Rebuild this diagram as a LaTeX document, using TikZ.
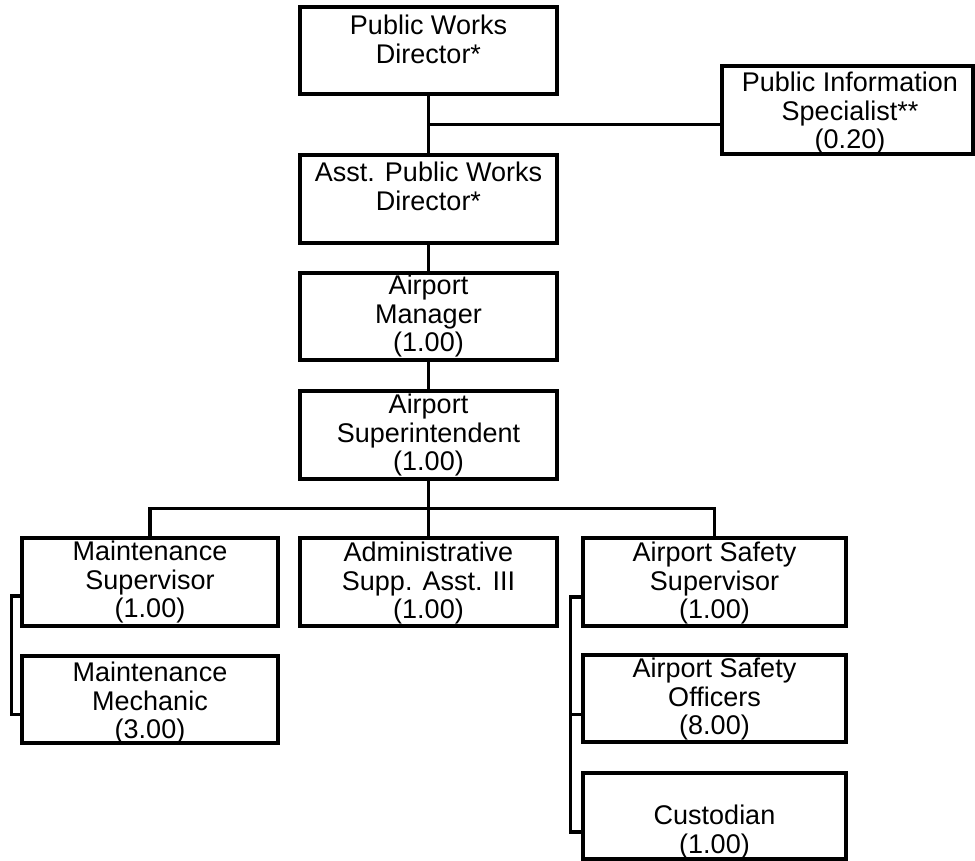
\documentclass[tikz,border=0pt]{standalone}
\usepackage{fontspec}
\setmainfont{Liberation Sans}
\usetikzlibrary{calc}
\tikzset{
  box/.style={draw=black, line width=3.3pt, rectangle, inner sep=0pt, fill=white},
  txt/.style={anchor=north, align=center, inner sep=0pt, font=\fontsize{27}{28.5}\selectfont},
  con/.style={draw=black, line width=3.3pt}
}
\begin{document}
\begin{tikzpicture}[x=1pt, y=-1pt]
\useasboundingbox (0,0) rectangle (975,861);
% boxes
\node[box, minimum width=257pt, minimum height=87pt] (pwd) at (428.5,50.5) {};
\node[box, minimum width=257pt, minimum height=88pt] (asst) at (428.5,199) {};
\node[box, minimum width=251pt, minimum height=88pt] (pis) at (847.5,110) {};
\node[box, minimum width=257pt, minimum height=87pt] (am) at (428.5,316.5) {};
\node[box, minimum width=257pt, minimum height=88pt] (si) at (428.5,435) {};
\node[box, minimum width=256pt, minimum height=88pt] (ms) at (150,582) {};
\node[box, minimum width=257pt, minimum height=88pt] (admin) at (428.5,582) {};
\node[box, minimum width=263pt, minimum height=88pt] (ass) at (714.5,582) {};
\node[box, minimum width=256pt, minimum height=87pt] (mm) at (150,699.5) {};
\node[box, minimum width=263pt, minimum height=87pt] (aso) at (714.5,698.5) {};
\node[box, minimum width=263pt, minimum height=86pt] (cust) at (714.5,816) {};
% texts
\node[txt] (tpwd) at (428.5,15) {Public Works\\Director*};
\node[txt] (tasst) at (428.5,162) {Asst. Public Works\\Director*};
\node[txt] (tpis) at (850,72) {Public Information\\Specialist**\\(0.20)};
\node[txt] (tam) at (428.5,275) {Airport\\Manager\\(1.00)};
\node[txt] (tsi) at (428.5,394) {Airport\\Superintendent\\(1.00)};
\node[txt] (tms) at (150,541) {Maintenance\\Supervisor\\(1.00)};
\node[txt] (tadmin) at (428.5,542) {Administrative\\Supp. Asst. III\\(1.00)};
\node[txt] (tass) at (714.5,542) {Airport Safety\\Supervisor\\(1.00)};
\node[txt] (tmm) at (150,662) {Maintenance\\Mechanic\\(3.00)};
\node[txt] (taso) at (714.5,658) {Airport Safety\\Officers\\(8.00)};
\node[txt] (tcust) at (714.5,805) {Custodian\\(1.00)};
% connectors
\coordinate (j1) at ($(pwd.south)!0.5!(asst.north)$);
\coordinate (bus) at ($(si.south)!0.5!(admin.north)$);
\draw[con] (pwd.south) -- (asst.north);
\draw[con] (j1) -- (j1 -| pis.west);
\draw[con] (asst.south) -- (am.north);
\draw[con] (am.south) -- (si.north);
\draw[con] (si.south) -- (admin.north);
\draw[con] (ms.north) |- (bus) -| (ass.north);
\draw[con] ([yshift=-14pt]ms.west) -- ++(-9,0) |- ([yshift=-15pt]mm.west);
\draw[con] ([yshift=-15pt]ass.west) -- ++(-11,0) |- ([yshift=-16pt]cust.west);
\draw[con] ([yshift=-16pt]aso.west) -- ++(-11,0);
\end{tikzpicture}
\end{document}
